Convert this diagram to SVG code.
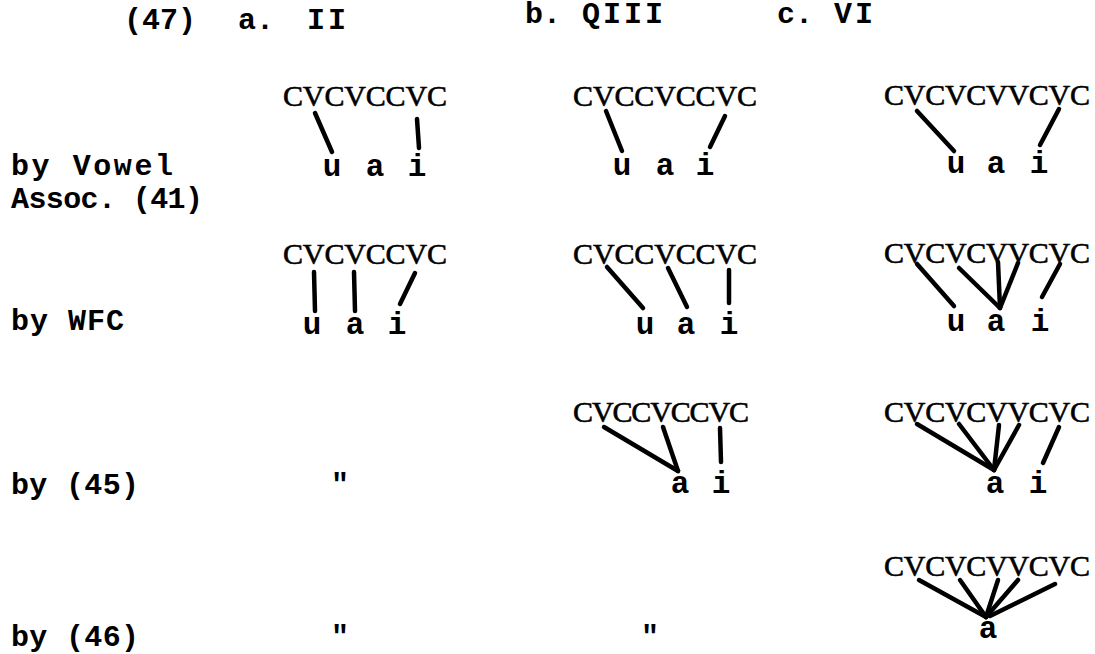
<svg xmlns="http://www.w3.org/2000/svg" width="1095" height="654" viewBox="0 0 1095 654">
<style>
.tw{font-family:"Liberation Mono","DejaVu Sans Mono",monospace;font-weight:bold;font-size:30px;fill:#000}
.sp{letter-spacing:3px}
.cv{font-family:"Liberation Serif","DejaVu Serif",serif;font-size:30px;fill:#000;stroke:#000;stroke-width:0.6}
.v{font-family:"Liberation Mono","DejaVu Sans Mono",monospace;font-weight:bold;font-size:31px;fill:#000;text-anchor:middle}
.ln{stroke:#000;stroke-width:4.5;stroke-linecap:round;fill:none}
</style>
<rect width="1095" height="654" fill="#fff"/>
<g id="header">
<text class="tw" x="124" y="29">(47)</text>
<text class="tw" x="238" y="29">a.</text>
<text class="tw sp" x="307" y="29">II</text>
<text class="tw" x="525" y="23">b.</text>
<text class="tw sp" x="582" y="23">QIII</text>
<text class="tw" x="777" y="23">c.</text>
<text class="tw sp" x="834" y="23">VI</text>
</g>
<g id="row-labels">
<text class="tw" x="11" y="175" textLength="162" lengthAdjust="spacing">by Vowel</text>
<text class="tw" x="11" y="208" textLength="192" lengthAdjust="spacing">Assoc. (41)</text>
<text class="tw" x="11" y="330" textLength="113" lengthAdjust="spacing">by WFC</text>
<text class="tw" x="11" y="494" textLength="128" lengthAdjust="spacing">by (45)</text>
<text class="tw" x="11" y="646" textLength="128" lengthAdjust="spacing">by (46)</text>
</g>
<g id="a1">
<text class="cv" x="283" y="106" textLength="164" lengthAdjust="spacing">CVCVCCVC</text>
<text class="v" x="332" y="176">u</text><text class="v" x="375" y="176">a</text><text class="v" x="417" y="176">i</text>
</g>
<g id="b1">
<text class="cv" x="573" y="106" textLength="184" lengthAdjust="spacing">CVCCVCCVC</text>
<text class="v" x="622" y="175">u</text><text class="v" x="665" y="175">a</text><text class="v" x="705" y="175">i</text>
</g>
<g id="c1">
<text class="cv" x="884" y="105" textLength="206" lengthAdjust="spacing">CVCVCVVCVC</text>
<text class="v" x="956" y="173">u</text><text class="v" x="996" y="173">a</text><text class="v" x="1039" y="173">i</text>
</g>
<g id="a2">
<text class="cv" x="283" y="264" textLength="164" lengthAdjust="spacing">CVCVCCVC</text>
<text class="v" x="312" y="334">u</text><text class="v" x="355" y="334">a</text><text class="v" x="397" y="334">i</text>
</g>
<g id="b2">
<text class="cv" x="573" y="264" textLength="184" lengthAdjust="spacing">CVCCVCCVC</text>
<text class="v" x="645" y="334">u</text><text class="v" x="686" y="334">a</text><text class="v" x="729" y="334">i</text>
</g>
<g id="c2">
<text class="cv" x="884" y="263" textLength="206" lengthAdjust="spacing">CVCVCVVCVC</text>
<text class="v" x="956" y="331">u</text><text class="v" x="996" y="331">a</text><text class="v" x="1040" y="331">i</text>
</g>
<g id="a3">
<text class="tw" x="331" y="494">"</text>
</g>
<g id="b3">
<text class="cv" x="573" y="422" textLength="176" lengthAdjust="spacing">CVCCVCCVC</text>
<text class="v" x="680" y="493">a</text><text class="v" x="721" y="493">i</text>
</g>
<g id="c3">
<text class="cv" x="884" y="422" textLength="206" lengthAdjust="spacing">CVCVCVVCVC</text>
<text class="v" x="995" y="493">a</text><text class="v" x="1038" y="493">i</text>
</g>
<g id="a4">
<text class="tw" x="331" y="646">"</text>
</g>
<g id="b4">
<text class="tw" x="641" y="646">"</text>
</g>
<g id="c4">
<text class="cv" x="884" y="576" textLength="206" lengthAdjust="spacing">CVCVCVVCVC</text>
<text class="v" x="988" y="638">a</text>
</g>
<g id="connectors">
<line class="ln" x1="315" y1="113" x2="332" y2="152"/>
<line class="ln" x1="417" y1="119" x2="419" y2="148"/>
<line class="ln" x1="606" y1="111" x2="622" y2="151"/>
<line class="ln" x1="725" y1="116" x2="710" y2="147"/>
<line class="ln" x1="917" y1="111" x2="954" y2="151"/>
<line class="ln" x1="1059" y1="109" x2="1040" y2="145"/>
<line class="ln" x1="314" y1="272" x2="315" y2="311"/>
<line class="ln" x1="354" y1="272" x2="355" y2="311"/>
<line class="ln" x1="415" y1="273" x2="400" y2="304"/>
<line class="ln" x1="607" y1="267" x2="643" y2="308"/>
<line class="ln" x1="668" y1="268" x2="687" y2="307"/>
<line class="ln" x1="729" y1="270" x2="729" y2="303"/>
<line class="ln" x1="917" y1="264" x2="954" y2="306"/>
<line class="ln" x1="959" y1="268" x2="1000" y2="308"/>
<line class="ln" x1="998" y1="262" x2="1000" y2="308"/>
<line class="ln" x1="1018" y1="263" x2="1000" y2="308"/>
<line class="ln" x1="1060" y1="264" x2="1042" y2="297"/>
<line class="ln" x1="604" y1="427" x2="678" y2="471"/>
<line class="ln" x1="663" y1="427" x2="678" y2="471"/>
<line class="ln" x1="720" y1="428" x2="721" y2="462"/>
<line class="ln" x1="917" y1="424" x2="994" y2="470"/>
<line class="ln" x1="959" y1="424" x2="994" y2="470"/>
<line class="ln" x1="999" y1="425" x2="994" y2="470"/>
<line class="ln" x1="1019" y1="425" x2="994" y2="470"/>
<line class="ln" x1="1059" y1="427" x2="1043" y2="463"/>
<line class="ln" x1="919" y1="580" x2="986" y2="617"/>
<line class="ln" x1="960" y1="580" x2="986" y2="617"/>
<line class="ln" x1="998" y1="580" x2="986" y2="617"/>
<line class="ln" x1="1018" y1="580" x2="986" y2="617"/>
<line class="ln" x1="1055" y1="584" x2="990" y2="616"/>
</g>
</svg>
